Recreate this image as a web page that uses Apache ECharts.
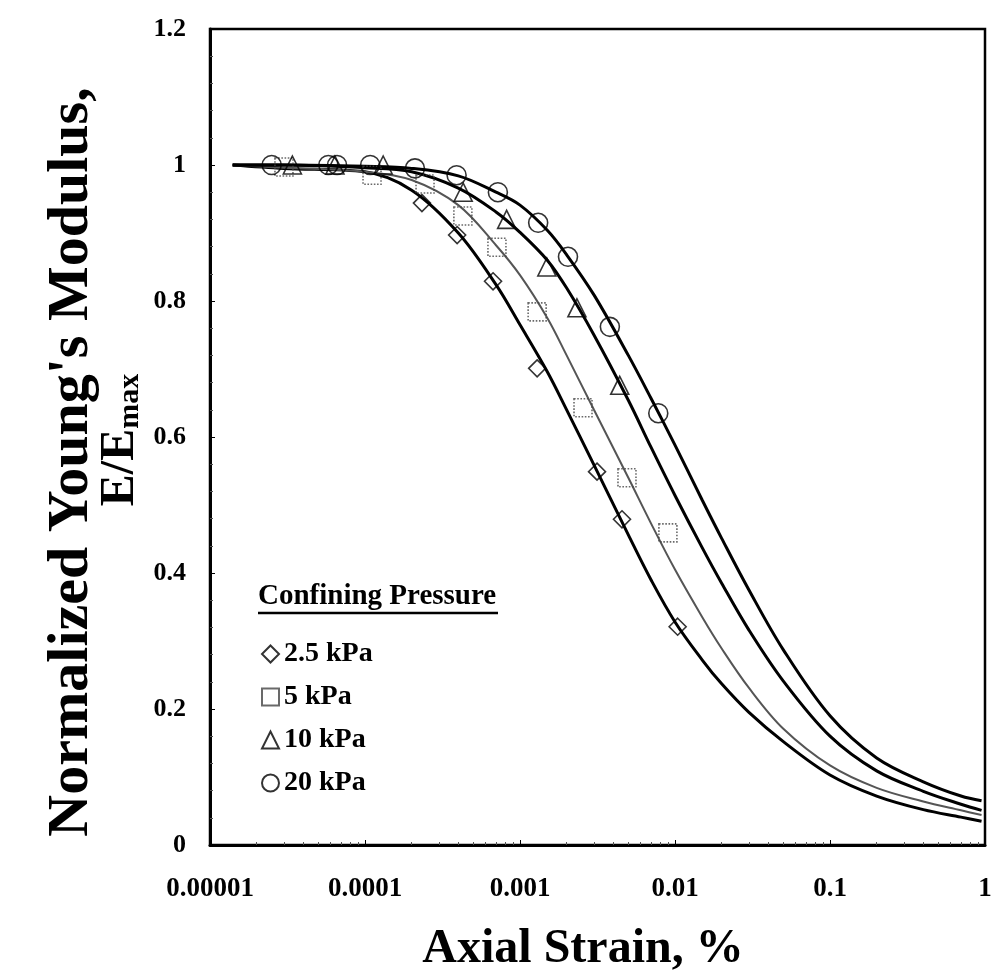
<!DOCTYPE html>
<html>
<head>
<meta charset="utf-8">
<script src="https://cdn.jsdelivr.net/npm/echarts@6/dist/echarts.min.js"></script>
<style>
  html, body { margin: 0; padding: 0; background: #fff; }
  #main { width: 995px; height: 978px; }
</style>
</head>
<body>
<div id="main"></div>
<script>
var chart = echarts.init(document.getElementById('main'));

// tick labels
var xTickLabels = ['0.00001', '0.0001', '0.001', '0.01', '0.1', '1'];
var yTickLabels = ['0', '0.2', '0.4', '0.6', '0.8', '1', '1.2'];

// fitted curves, axial strain (%) samples shared by the four curves
var curveStrain = [1.4e-5, 3e-5, 1e-4, 2e-4, 4e-4, 7e-4, 1e-3, 1.5e-3, 2e-3, 3e-3, 5e-3, 7e-3,
                   1e-2, 1.5e-2, 2e-2, 3e-2, 5e-2, 0.1, 0.2, 0.4, 0.7, 0.95];
var curve25 = [1.0, 0.995, 0.99, 0.963, 0.9, 0.824, 0.765, 0.696, 0.64, 0.559, 0.456, 0.39,
               0.328, 0.272, 0.237, 0.195, 0.152, 0.103, 0.072, 0.052, 0.041, 0.035];
var curve5 = [1.0, 0.996, 0.99, 0.978, 0.941, 0.882, 0.838, 0.775, 0.72, 0.64, 0.54, 0.473,
              0.405, 0.335, 0.289, 0.231, 0.171, 0.117, 0.084, 0.064, 0.051, 0.044];
var curve10 = [1.0, 1.0, 0.996, 0.99, 0.966, 0.931, 0.901, 0.86, 0.819, 0.75, 0.654, 0.585,
               0.514, 0.437, 0.385, 0.316, 0.241, 0.16, 0.109, 0.079, 0.06, 0.051];
var curve20 = [1.0, 1.0, 0.998, 0.995, 0.984, 0.96, 0.941, 0.904, 0.868, 0.809, 0.72, 0.657,
               0.588, 0.507, 0.451, 0.375, 0.287, 0.19, 0.128, 0.093, 0.072, 0.065];

// measured points
var strain25 = [2.33e-4, 3.93e-4, 6.7e-4, 1.29e-3, 3.14e-3, 4.55e-3, 1.04e-2];
var ratio25 = [0.944, 0.897, 0.829, 0.701, 0.549, 0.479, 0.321];
var strain5 = [3.0e-5, 1.11e-4, 2.44e-4, 4.28e-4, 7.1e-4, 1.29e-3, 2.55e-3, 4.9e-3, 9.0e-3];
var ratio5 = [0.997, 0.985, 0.972, 0.925, 0.879, 0.784, 0.643, 0.54, 0.459];
var strain10 = [3.4e-5, 6.4e-5, 1.31e-4, 4.3e-4, 8.2e-4, 1.49e-3, 2.33e-3, 4.4e-3];
var ratio10 = [1.0, 1.0, 1.0, 0.96, 0.92, 0.85, 0.79, 0.676];
var strain20 = [2.5e-5, 5.8e-5, 6.6e-5, 1.08e-4, 2.1e-4, 3.9e-4, 7.2e-4, 1.31e-3, 2.04e-3, 3.8e-3, 7.8e-3];
var ratio20 = [1.0, 1.0, 1.0, 1.0, 0.995, 0.985, 0.96, 0.915, 0.865, 0.762, 0.635];

var legendNames = ['2.5 kPa', '5 kPa', '10 kPa', '20 kPa'];

function pairs(xs, ys) {
  return xs.map(function (x, i) { return [x, ys[i]]; });
}

var serif = '"Liberation Serif", "Times New Roman", serif';

function curve(data, color, width) {
  return {
    type: 'line',
    data: pairs(curveStrain, data),
    showSymbol: false,
    smooth: 0.35,
    silent: true,
    lineStyle: { color: color, width: width },
    z: 2
  };
}

function points(name, xs, ys, symbol, size, border) {
  return {
    name: name,
    type: 'scatter',
    data: pairs(xs, ys),
    symbol: symbol,
    symbolSize: size,
    itemStyle: {
      color: 'rgba(0,0,0,0)',
      borderColor: border,
      borderWidth: 1.6,
      borderType: border === '#000' ? 'solid' : 'dotted'
    },
    z: 3
  };
}

var option = {
  backgroundColor: '#fff',
  animation: false,
  grid: {
    left: 210,
    right: 10,
    top: 29,
    bottom: 133,
    show: true,
    borderColor: '#000',
    borderWidth: 2.5
  },
  legend: {
    data: legendNames,
    orient: 'vertical',
    left: 256,
    top: 635,
    itemGap: 15,
    itemWidth: 17,
    itemHeight: 17,
    textStyle: { fontFamily: serif, fontWeight: 'bold', fontSize: 28, color: '#000' }
  },
  xAxis: {
    type: 'log',
    logBase: 10,
    min: 0.00001,
    max: 1,
    axisLine: { lineStyle: { color: '#000', width: 3 } },
    axisTick: { inside: true, length: 5, lineStyle: { color: '#000' } },
    minorTick: { show: true, splitNumber: 9, length: 3, lineStyle: { color: '#555' } },
    splitLine: { show: false },
    axisLabel: {
      margin: 31,
      fontFamily: serif,
      fontWeight: 'bold',
      fontSize: 27,
      color: '#000',
      formatter: function (v) {
        return xTickLabels[Math.round(Math.log10(v)) + 5];
      }
    }
  },
  yAxis: {
    type: 'value',
    min: 0,
    max: 1.2,
    interval: 0.2,
    axisLine: { show: true, lineStyle: { color: '#000', width: 3 } },
    axisTick: { inside: true, length: 5, lineStyle: { color: '#000' } },
    minorTick: { show: true, splitNumber: 5, length: 3, lineStyle: { color: '#555' } },
    splitLine: { show: false },
    axisLabel: {
      margin: 24,
      fontFamily: serif,
      fontWeight: 'bold',
      fontSize: 26,
      color: '#000',
      formatter: function (v) {
        return yTickLabels[Math.round(v * 5)];
      }
    }
  },
  graphic: [
    {
      type: 'text',
      x: 72,
      y: 462,
      rotation: Math.PI / 2,
      style: {
        text: "Normalized Young's Modulus,",
        font: 'bold 58px ' + serif,
        fill: '#000',
        align: 'center',
        verticalAlign: 'middle'
      }
    },
    {
      type: 'text',
      x: 121,
      y: 440,
      rotation: Math.PI / 2,
      style: {
        text: '{a|E/E}{b|max}',
        fill: '#000',
        align: 'center',
        verticalAlign: 'middle',
        rich: {
          a: { font: 'bold 48px ' + serif, fill: '#000' },
          b: { font: 'bold 30px ' + serif, fill: '#000', verticalAlign: 'bottom', padding: [14, 0, 0, 0] }
        }
      }
    },
    {
      type: 'text',
      x: 583,
      y: 950,
      style: {
        text: 'Axial Strain, %',
        font: 'bold 48px ' + serif,
        fill: '#000',
        align: 'center',
        verticalAlign: 'middle'
      }
    },
    {
      type: 'text',
      x: 258,
      y: 597,
      style: {
        text: 'Confining Pressure',
        font: 'bold 29px ' + serif,
        fill: '#000',
        align: 'left',
        verticalAlign: 'middle'
      }
    },
    {
      type: 'line',
      shape: { x1: 258, y1: 613, x2: 498, y2: 613 },
      style: { stroke: '#000', lineWidth: 2.5 }
    }
  ],
  series: [
    curve(curve25, '#000', 3),
    curve(curve5, '#555', 2),
    curve(curve10, '#000', 3),
    curve(curve20, '#000', 3),
    points('2.5 kPa', strain25, ratio25, 'diamond', 17, '#000'),
    points('5 kPa', strain5, ratio5, 'rect', 18, '#444'),
    points('10 kPa', strain10, ratio10, 'triangle', 18, '#000'),
    points('20 kPa', strain20, ratio20, 'circle', 19, '#000')
  ]
};

chart.setOption(option);
</script>
</body>
</html>
